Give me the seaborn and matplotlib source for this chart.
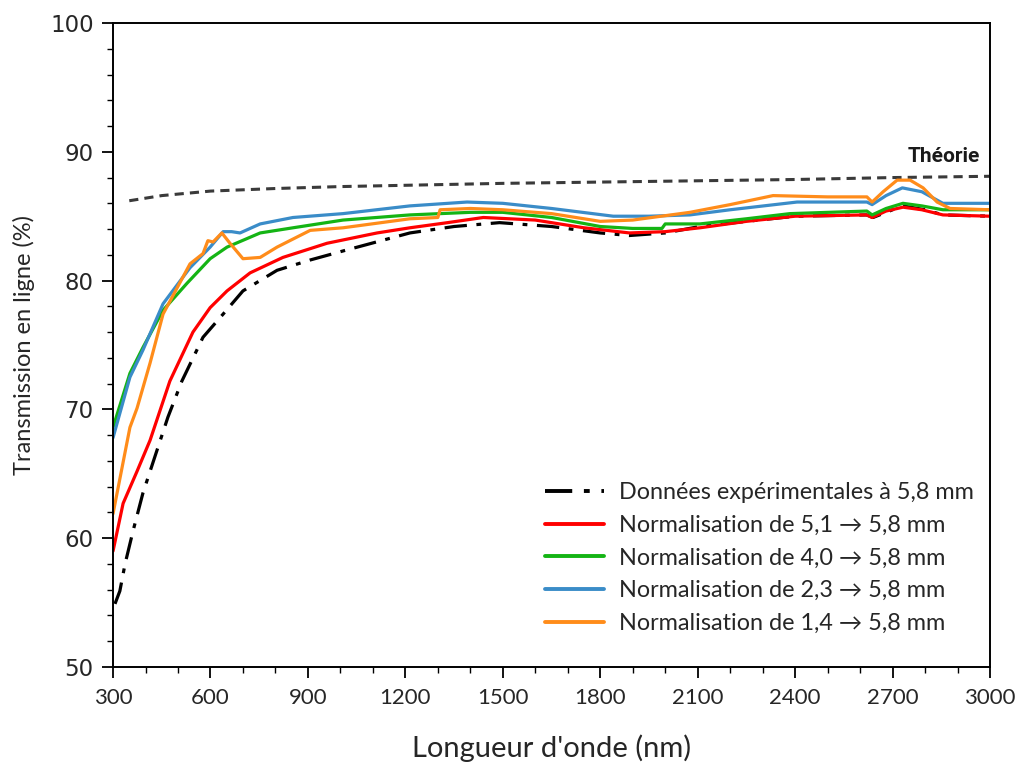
import numpy as np
import pandas as pd
import matplotlib
matplotlib.use("Agg")
import matplotlib.pyplot as plt
import seaborn as sns

# Values
theory_x = [350, 450, 600, 800, 1000, 1200, 1500, 1800, 2100, 2400, 2700, 3000]
theory_y = [86.2, 86.6, 86.95, 87.15, 87.3, 87.4, 87.55, 87.65, 87.75, 87.85, 88.0, 88.1]

exp_x = [306, 321, 337, 362, 392, 435, 469, 512, 577, 639, 700, 805, 907, 1008, 1214, 1350, 1490,
         1650, 1800, 1890, 2000, 2107, 2250, 2400, 2620, 2640, 2700, 2732, 2800, 2855, 3000]
exp_y = [54.9, 55.9, 58.0, 60.6, 63.5, 66.8, 69.4, 72.2, 75.6, 77.4, 79.2, 80.8, 81.6, 82.3, 83.7, 84.2, 84.5,
         84.2, 83.7, 83.5, 83.7, 84.2, 84.6, 85.0, 85.1, 84.9, 85.5, 85.8, 85.5, 85.1, 85.0]

red_x = [300, 331, 374, 414, 475, 546, 599, 651, 722, 823, 959, 1113, 1214, 1330, 1440, 1600, 1750,
         1890, 2000, 2107, 2250, 2400, 2620, 2637, 2680, 2732, 2790, 2855, 3000]
red_y = [59.0, 62.7, 65.2, 67.6, 72.2, 76.0, 77.9, 79.2, 80.6, 81.8, 82.9, 83.7, 84.1, 84.5, 84.9, 84.7, 84.1,
         83.7, 83.8, 84.1, 84.6, 85.0, 85.1, 84.9, 85.4, 85.7, 85.5, 85.1, 85.0]

green_x = [300, 352, 392, 454, 528, 599, 651, 753, 854, 1008, 1214, 1400, 1500, 1650, 1800, 1900, 1990,
           2000, 2107, 2250, 2384, 2621, 2637, 2680, 2732, 2790, 2855, 3000]
green_y = [68.6, 72.8, 74.8, 77.7, 79.8, 81.7, 82.6, 83.7, 84.1, 84.7, 85.1, 85.3, 85.3, 84.9, 84.2, 84.05, 84.05,
           84.4, 84.4, 84.8, 85.2, 85.4, 85.1, 85.6, 86.0, 85.8, 85.5, 85.5]

blue_x = [300, 352, 392, 454, 537, 599, 639, 665, 691, 753, 854, 1008, 1214, 1390, 1500, 1650, 1840,
          1950, 2076, 2200, 2406, 2621, 2637, 2680, 2730, 2790, 2855, 3000]
blue_y = [67.8, 72.5, 74.6, 78.2, 81.0, 82.6, 83.8, 83.8, 83.7, 84.4, 84.9, 85.2, 85.8, 86.1, 86.0, 85.6, 85.0,
          85.0, 85.1, 85.5, 86.1, 86.1, 85.9, 86.6, 87.2, 86.9, 86.0, 86.0]

orange_x = [300, 352, 374, 414, 454, 537, 577, 592, 608, 635, 660, 700, 753, 805, 907, 1008, 1214, 1300,
            1307, 1400, 1500, 1650, 1800, 1900, 2076, 2200, 2332, 2500, 2621, 2637, 2671, 2714, 2754,
            2794, 2837, 2877, 3000]
orange_y = [61.9, 68.6, 70.1, 73.6, 77.4, 81.3, 82.1, 83.1, 83.0, 83.7, 82.9, 81.7, 81.8, 82.6, 83.9, 84.1, 84.8, 84.9,
            85.5, 85.6, 85.5, 85.2, 84.6, 84.7, 85.3, 85.9, 86.6, 86.5, 86.5, 86.1, 86.9, 87.8, 87.8,
            87.2, 86.1, 85.6, 85.5]

labels = ["Données expérimentales à 5,8 mm",
          "Normalisation de 5,1 \u2192 5,8 mm",
          "Normalisation de 4,0 \u2192 5,8 mm",
          "Normalisation de 2,3 \u2192 5,8 mm",
          "Normalisation de 1,4 \u2192 5,8 mm"]

x_ticks = [300, 600, 900, 1200, 1500, 1800, 2100, 2400, 2700, 3000]
y_ticks = [50, 60, 70, 80, 90, 100]

sns.set_style("ticks")
plt.rcParams['font.family'] = ['Lato', 'DejaVu Sans']

fig = plt.figure(figsize=(10.22, 7.67), dpi=100)
ax = fig.add_axes([0.1106, 0.1304, 0.8581, 0.8396])

# Theory curve (dashed, grey)
sns.lineplot(x=theory_x, y=theory_y, ax=ax, color='#3a3a3a', linewidth=2.2,
             linestyle=(0, (3, 2)), estimator=None)

series = [
    (exp_x, exp_y, 'black', (0, (7, 3, 1.5, 3))),
    (red_x, red_y, '#ff0000', '-'),
    (green_x, green_y, '#14b414', '-'),
    (blue_x, blue_y, '#3a8cc8', '-'),
    (orange_x, orange_y, '#ff8c1a', '-'),
]
for (xs, ys, col, ls), lab in zip(series, labels):
    sns.lineplot(x=xs, y=ys, ax=ax, color=col, linewidth=2.3, linestyle=ls,
                 estimator=None, label=lab)

ax.text(2969, 89.2, "Théorie", ha='right', va='baseline', fontsize=15,
        fontweight='bold', color='#1a1a1a', family=['Roboto', 'DejaVu Sans'])

ax.set_xlim(300, 3000)
ax.set_ylim(50, 100)
ax.set_xticks(x_ticks)
ax.set_yticks(y_ticks)
ax.set_xticks(np.arange(300, 3001, 100), minor=True)
ax.set_yticks(np.arange(50, 101, 2), minor=True)
ax.tick_params(axis='both', which='major', direction='out', length=8, width=1.3, color='black')
ax.tick_params(axis='both', which='minor', direction='out', length=4.5, width=1.0, color='black')
ax.tick_params(axis='y', labelsize=16.5, pad=6, labelfontfamily='DejaVu Sans')
ax.tick_params(axis='x', labelsize=16, pad=7, labelfontfamily='Lato')

for sp in ax.spines.values():
    sp.set_visible(True)
    sp.set_color('black')
    sp.set_linewidth(1.4)

ax.set_xlabel("Longueur d'onde (nm)", fontsize=21, labelpad=19)
ax.set_ylabel("Transmission en ligne (%)", fontsize=17, labelpad=11)

leg = ax.legend(loc='lower left', bbox_to_anchor=(0.469, 0.019), frameon=False,
                fontsize=16.8, handlelength=2.5, handletextpad=0.65, labelspacing=0.5)
for lh in leg.get_lines():
    lh.set_linewidth(2.8)

fig.savefig("out.png", dpi=100)
